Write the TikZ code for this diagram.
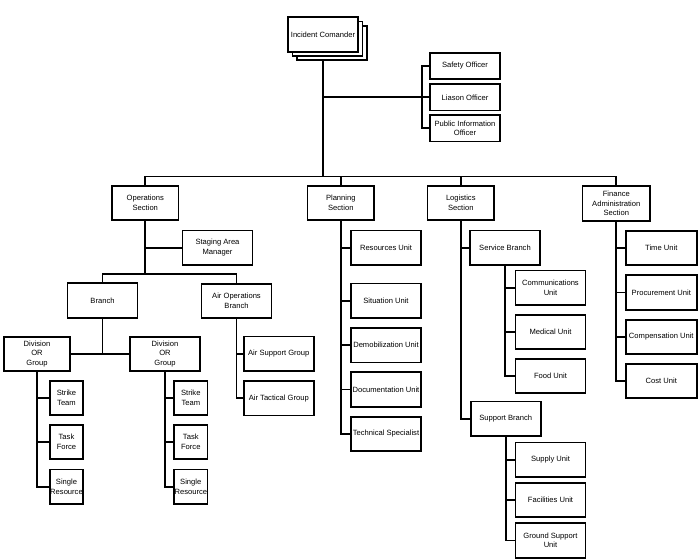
\documentclass[tikz,border=0pt]{standalone}
\usepackage{fontspec}
\setmainfont{Liberation Sans}
\usetikzlibrary{shadows, backgrounds}

\tikzset{
  unitbox/.style={draw, line width=1.8pt, fill=white, align=center, inner sep=0.5pt,
    font=\fontsize{7.6}{9.5}\selectfont, minimum width=70pt, minimum height=34.5pt},
  smallbox/.style={unitbox, minimum width=33.5pt},
  sectbox/.style={unitbox, minimum width=66.5pt},
  staffbox/.style={unitbox, minimum height=26.5pt},
  link/.style={line width=1.8pt}
}

\begin{document}
\begin{tikzpicture}[x=1pt, y=-1pt]
  \useasboundingbox (0,0) rectangle (698,559);

  % command and staff
  \node[unitbox, double copy shadow={shadow xshift=4.5pt, shadow yshift=-4.3pt}] (ic) at (323,34.5) {Incident Comander};
  \foreach \n/\y/\t in {safety/66/Safety Officer, liaison/97.3/Liason Officer, pio/128.3/{Public Information\\Officer}}
    \node[staffbox] (\n) at (465,\y) {\t};

  % sections
  \node[sectbox] (ops) at (145.3,203) {Operations\\Section};
  \node[sectbox] (plan) at (340.8,203) {Planning\\Section};
  \node[sectbox] (logi) at (460.8,203) {Logistics\\Section};
  \node[unitbox, minimum width=67.5pt] (fin) at (616.3,203.5) {Finance\\Administration\\Section};

  % operations
  \node[unitbox] (stage) at (217.5,247.7) {Staging Area\\Manager};
  \node[unitbox] (branch) at (102.5,300.5) {Branch};
  \node[unitbox] (airops) at (236.5,301) {Air Operations\\Branch};
  \node[sectbox] (div1) at (37,354) {Division\\OR\\Group};
  \node[unitbox] (div2) at (165,354) {Division\\OR\\Group};
  \foreach \d/\x in {div1/66.5, div2/190.8} {
    \node[smallbox] (\d-strike) at (\x,398) {Strike\\Team};
    \node[smallbox] (\d-task) at (\x,442) {Task\\Force};
    \node[smallbox] (\d-single) at (\x,486.7) {Single\\Resource};
  }
  \foreach \n/\y/\t in {airsup/353.7/Air Support Group, airtac/398.3/Air Tactical Group}
    \node[unitbox] (\n) at (278.8,\y) {\t};

  % planning
  \foreach \n/\y/\t in {res/247.7/Resources Unit, sit/300.7/Situation Unit, demob/345.2/Demobilization Unit, doc/389.5/Documentation Unit, tech/434/Technical Specialist}
    \node[unitbox] (\n) at (386,\y) {\t};

  % logistics
  \node[unitbox] (service) at (505,247.7) {Service Branch};
  \foreach \n/\y/\t in {comm/287.7/{Communications\\Unit}, med/332/Medical Unit, food/376/Food Unit}
    \node[unitbox] (\n) at (550.5,\y) {\t};
  \node[unitbox] (support) at (505.8,418.7) {Support Branch};
  \foreach \n/\y/\t in {supply/459.7/Supply Unit, facil/500/Facilities Unit, ground/540.5/{Ground Support\\Unit}}
    \node[unitbox] (\n) at (550.5,\y) {\t};

  % finance
  \foreach \n/\y/\t in {time/248/Time Unit, proc/292.5/Procurement Unit, comp/337/Compensation Unit, cost/381/Cost Unit}
    \node[unitbox, minimum width=71pt] (\n) at (661.3,\y) {\t};

  % connectors
  \begin{scope}[on background layer={link}]
    \coordinate (cmdbar) at (323,176.5);
    \coordinate (opsbar) at (145.3,274);
    \draw (ic.south) -- (cmdbar);
    \draw (liaison.west) -- (liaison.west -| ic.south);
    \draw (safety.west) -- ++(-7,0) |- (pio.west);
    \draw (ops.north) |- (cmdbar) -| (fin.north);
    \draw (plan.north) -- (plan.north |- cmdbar);
    \draw (logi.north) -- (logi.north |- cmdbar);
    \draw (ops.south) |- (stage.west);
    \draw (ops.south) -- (opsbar);
    \draw (branch.north) |- (opsbar) -| (airops.north);
    \draw (branch.south) -- (branch.south |- div1.east);
    \draw (div1.east) -- (div2.west);
    \foreach \d in {div1, div2}
      \foreach \k in {strike, task, single}
        \draw (\d.south) |- (\d-\k.west);
    \foreach \k in {airsup, airtac}
      \draw (airops.south) |- (\k.west);
    \foreach \k in {res, sit, demob, doc, tech}
      \draw (plan.south) |- (\k.west);
    \draw (logi.south) |- (service.west);
    \draw (logi.south) |- (support.west);
    \foreach \k in {comm, med, food}
      \draw (service.south) |- (\k.west);
    \foreach \k in {supply, facil, ground}
      \draw (support.south) |- (\k.west);
    \foreach \k in {time, proc, comp, cost}
      \draw (fin.south) |- (\k.west);
  \end{scope}
\end{tikzpicture}
\end{document}
